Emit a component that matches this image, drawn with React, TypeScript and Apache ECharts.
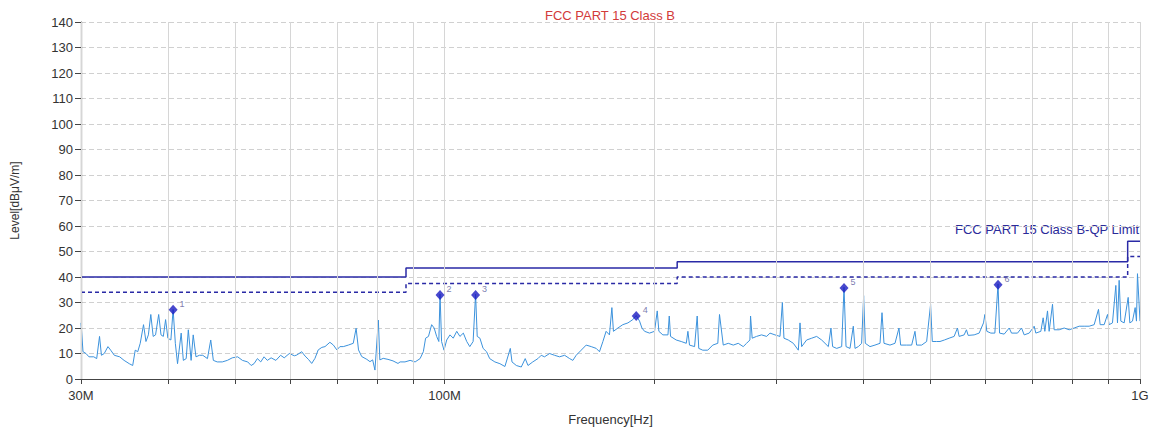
import React, { useEffect, useRef } from "react";
import * as echarts from "echarts";

// Frequency in MHz, level in dBµV/m
const traceFreq: number[] = [
  30.0, 30.2, 30.5, 30.8, 31.3, 31.6, 31.9, 32.1, 32.4, 32.8, 33.1, 33.5, 34.1, 34.6, 35.2, 35.6, 35.9, 36.2, 36.5, 36.9,
  37.2, 37.5, 37.8, 38.1, 38.4, 38.8, 39.1, 39.4, 39.7, 40.0, 40.4, 40.7, 41.0, 41.3, 41.8, 42.1, 42.5, 42.8, 43.2, 43.5,
  43.9, 44.4, 44.9, 45.6, 46.1, 46.5, 47.1, 47.9, 48.7, 49.5, 50.4, 51.2, 52.1, 52.7, 53.2, 53.8, 54.4, 55.0, 55.6, 56.3,
  57.2, 58.1, 58.8, 59.8, 60.8, 61.3, 62.3, 63.0, 63.7, 64.4, 65.1, 65.8, 66.6, 67.3, 68.4, 69.2, 70.0, 70.7, 71.5, 72.7,
  73.9, 74.6, 75.2, 76.0, 77.3, 78.1, 78.8, 79.4, 80.3, 80.7, 81.6, 82.9, 84.3, 85.7, 86.3, 87.7, 89.2, 90.7, 92.2, 93.2,
  93.9, 94.8, 95.8, 96.6, 97.4, 98.1, 98.5, 99.0, 99.8, 100.7, 101.8, 102.9, 104.1, 105.2, 106.4, 107.6, 108.7, 109.9, 110.8, 111.4,
  112.4, 113.6, 114.9, 116.1, 118.1, 120.1, 122.1, 124.3, 125.0, 126.8, 128.9, 130.6, 131.8, 133.9, 136.2, 137.7, 139.2, 141.6, 143.9, 146.3,
  148.8, 151.3, 152.9, 154.6, 157.2, 159.8, 162.5, 165.2, 167.0, 168.9, 170.7, 172.6, 174.0, 174.9, 177.5, 180.4, 183.5, 186.5, 188.6, 190.7,
  192.2, 193.9, 197.1, 200.4, 202.2, 203.3, 206.0, 209.5, 210.4, 211.3, 215.3, 218.9, 222.6, 223.8, 225.0, 228.8, 230.8, 232.0, 235.1, 239.0,
  243.0, 247.1, 248.5, 251.6, 255.8, 260.1, 264.4, 268.8, 271.8, 274.8, 275.4, 276.9, 280.9, 285.6, 290.5, 293.7, 298.6, 303.6, 306.0, 307.6,
  312.0, 317.3, 322.6, 324.4, 326.2, 331.6, 337.2, 342.8, 348.5, 352.4, 356.3, 359.4, 361.4, 366.3, 372.4, 375.3, 377.8, 382.8, 387.0, 389.2,
  393.5, 397.8, 400.5, 402.7, 409.0, 415.8, 422.8, 425.6, 428.4, 437.0, 444.3, 450.2, 452.7, 461.8, 469.5, 474.7, 477.3, 485.3, 493.4, 499.9,
  502.7, 510.0, 515.7, 523.3, 531.5, 540.4, 546.4, 549.4, 558.6, 562.9, 566.1, 577.4, 587.1, 595.6, 598.3, 602.2, 610.3, 618.4, 625.0, 628.1,
  637.8, 648.5, 653.5, 666.6, 675.5, 681.5, 692.9, 704.4, 708.3, 720.1, 725.7, 729.7, 736.2, 740.2, 748.5, 752.6, 765.2, 778.0, 791.0, 804.2,
  817.6, 831.2, 845.1, 859.2, 871.6, 876.4, 888.1, 898.0, 902.9, 912.9, 923.1, 928.2, 933.3, 938.5, 948.9, 961.6, 966.9, 975.4, 984.1, 988.4,
  991.7, 1000.0,
];
const traceLevel: number[] = [
  22, 10.7, 10, 8.7, 8.7, 8, 16.7, 9.3, 10, 12.7, 11.3, 9.3, 8.7, 7.3, 6, 5.3, 11.3, 10.7, 14, 21.3,
  14.7, 17.3, 25.3, 16.7, 17.3, 25.3, 17.3, 16.7, 23.3, 16, 15.3, 27.3, 14, 6, 18, 7.3, 8, 19.3, 7.3, 17.3,
  8.7, 9.3, 9.3, 8, 15.3, 7.3, 6.7, 6.7, 7.3, 8.3, 8.7, 7.3, 6.7, 5.3, 6, 8, 6.7, 8.7, 7.3, 8.3,
  7.3, 9.3, 8.3, 10, 9.1, 9.4, 10.7, 9, 7.7, 6.1, 8.1, 11.4, 12.4, 12.7, 14.4, 13.3, 11.4, 12.7, 12.7, 13.3,
  14, 19.9, 11.4, 8.8, 7.7, 6.8, 7.5, 3.5, 23.1, 7.5, 8.1, 7.7, 7.1, 6.1, 6.7, 6.7, 7.3, 6.7, 8, 10.7,
  16, 16.7, 21.3, 20, 16.7, 14.7, 33.3, 14.7, 11.3, 15.3, 17.3, 16, 18.7, 16.7, 18, 14.7, 12.7, 14.7, 33.3, 16.7,
  16, 12, 10.7, 8, 6.7, 6, 4.9, 12, 6.7, 5.3, 4.7, 8, 5.3, 6.7, 8, 9.3, 8.7, 10, 9.3, 8.7,
  9.3, 8, 7.3, 9.3, 11.3, 13.3, 12.7, 12, 10.7, 14.7, 18.7, 17.3, 28, 18.7, 20, 21.3, 22, 23.3, 24.9, 22.7,
  20, 18.7, 18, 18.7, 26.7, 18.7, 17.3, 17.3, 24.7, 16.7, 15.3, 14.7, 14, 18.7, 13.3, 12.7, 24.7, 12, 11.3, 11.3,
  13.3, 14, 25.3, 13.3, 14, 13.3, 14, 12.7, 14, 15.3, 24.7, 16, 16.7, 17.3, 16.7, 18, 17.3, 16.7, 30, 16,
  15.3, 14, 11.3, 22, 12.7, 15.3, 16, 16.7, 15.3, 14, 12.7, 20, 12.7, 12, 12.7, 36, 12.7, 12, 20.7, 12,
  12.7, 14, 32.7, 14, 12.7, 13.3, 14, 26, 14, 13.3, 14, 20, 13.3, 13.3, 13.3, 18.7, 13.3, 13.3, 14.7, 29.3,
  14.7, 14.7, 14.7, 15.3, 16, 16.7, 20, 16.7, 17.3, 19.3, 17.1, 17.3, 18, 22, 25.3, 18.7, 18, 18, 37.3, 18,
  17.6, 20, 18, 18, 20, 17.3, 18, 20.7, 18, 18.7, 24, 18.7, 26.7, 18.7, 29.3, 19.3, 19.3, 20, 19.3, 20,
  20.7, 20.7, 20.7, 21.3, 27.3, 21.3, 21.3, 25.3, 21.3, 22, 36.7, 22, 38.7, 22.7, 22, 32, 22, 22.7, 28, 22.7,
  41.3, 22.7,
];

// Limit lines (band edges in MHz)
const limitEdges: number[] = [30, 88, 216, 960, 1000];
const qpLimit: number[] = [40, 43.5, 46, 54];
const qpLimitMinus6: number[] = [34, 37.5, 40, 48];

// Marked peaks
const peakFreq: number[] = [40.7, 98.5, 110.8, 188.6, 375.3, 625.0];
const peakLevel: number[] = [27.2, 32.9, 32.9, 24.7, 35.7, 37.0];

// Axis tick values
const xGridValues: number[] = [30, 40, 50, 60, 70, 80, 90, 100, 200, 300, 400, 500, 600, 700, 800, 900, 1000];
const xLabelValues: number[] = [30, 100, 1000];

const FONT = "Arial, 'Liberation Sans', sans-serif";

function stepData(edges: number[], levels: number[]) {
  const pts: number[][] = levels.map((v, i) => [edges[i], v]);
  pts.push([edges[edges.length - 1], levels[levels.length - 1]]);
  return pts;
}

export default function App() {
  const ref = useRef<HTMLDivElement>(null);

  useEffect(() => {
    document.body.style.margin = "0";
    if (!ref.current) return;
    const chart = echarts.init(ref.current, undefined, { renderer: "svg" });
    const limitColor = "#2a2aa6";
    const option: any = {
      animation: false,
      backgroundColor: "#ffffff",
      textStyle: { fontFamily: FONT },
      grid: { left: 81, right: 13, top: 22, bottom: 53 },
      xAxis: {
        type: "log",
        logBase: 10,
        min: 30,
        max: 1000,
        name: "Frequency[Hz]",
        nameLocation: "middle",
        nameGap: 34,
        nameTextStyle: { color: "#333", fontSize: 13, fontFamily: FONT },
        axisLine: { show: true, lineStyle: { color: "#444", width: 1.2 } },
        axisTick: {
          show: true,
          length: 5,
          customValues: xGridValues,
          lineStyle: { color: "#444" },
        },
        axisLabel: {
          customValues: xLabelValues,
          color: "#333",
          fontSize: 13,
          fontFamily: FONT,
          margin: 10,
          formatter: (v: number) => (v >= 1000 ? v / 1000 + "G" : Math.round(v) + "M"),
        },
        splitLine: { show: false },
        minorTick: { show: false },
      },
      yAxis: {
        type: "value",
        min: 0,
        max: 140,
        interval: 10,
        name: "Level[dBμV/m]",
        nameLocation: "middle",
        nameGap: 60,
        nameTextStyle: { color: "#333", fontSize: 12, fontFamily: FONT },
        axisLine: { show: true, lineStyle: { color: "#444", width: 1.2 } },
        axisTick: { show: true, length: 6, lineStyle: { color: "#444" } },
        axisLabel: { color: "#333", fontSize: 13, fontFamily: FONT, margin: 8 },
        splitLine: { show: true, lineStyle: { color: "#d0d0d0", width: 1, type: [5, 3] } },
      },
      graphic: [
        {
          type: "text",
          x: 610,
          y: 15,
          style: {
            text: "FCC PART 15 Class B",
            fill: "#d23a3a",
            font: "13px " + FONT,
            textAlign: "center",
            textVerticalAlign: "middle",
          },
        },
        {
          type: "text",
          x: 1139,
          y: 229,
          style: {
            text: "FCC PART 15 Class B-QP Limit",
            fill: "#2a2a9a",
            font: "13px " + FONT,
            textAlign: "right",
            textVerticalAlign: "middle",
          },
        },
      ],
      series: [
        {
          name: "Grid",
          type: "line",
          data: [],
          silent: true,
          z: 0,
          markLine: {
            silent: true,
            symbol: "none",
            label: { show: false },
            lineStyle: { color: "#d6d6d6", width: 1, type: "solid" },
            data: xGridValues.map((v) => ({ xAxis: v })),
          },
        },
        {
          name: "Trace",
          type: "line",
          data: traceFreq.map((f, i) => [f, traceLevel[i]]),
          showSymbol: false,
          symbol: "none",
          lineStyle: { color: "#3c92dc", width: 1 },
          z: 2,
        },
        {
          name: "QP Limit",
          type: "line",
          step: "end",
          data: stepData(limitEdges, qpLimit),
          showSymbol: false,
          symbol: "none",
          lineStyle: { color: limitColor, width: 1.5 },
          z: 3,
        },
        {
          name: "QP Limit -6dB",
          type: "line",
          step: "end",
          data: stepData(limitEdges, qpLimitMinus6),
          showSymbol: false,
          symbol: "none",
          lineStyle: { color: limitColor, width: 1.5, type: [4, 3] },
          z: 3,
        },
        {
          name: "Peaks",
          type: "scatter",
          data: peakFreq.map((f, i) => [f, peakLevel[i]]),
          symbol: "diamond",
          symbolSize: [9, 10],
          itemStyle: { color: "#1a1ac0" },
          label: {
            show: true,
            position: "right",
            distance: 2,
            offset: [0, -6],
            fontSize: 9,
            color: "#5a5a9a",
            fontFamily: FONT,
            formatter: (p: any) => String(p.dataIndex + 1),
          },
          z: 5,
        },
      ],
    };
    chart.setOption(option);
    return () => chart.dispose();
  }, []);

  return <div ref={ref} style={{ width: 1153, height: 432 }} />;
}
